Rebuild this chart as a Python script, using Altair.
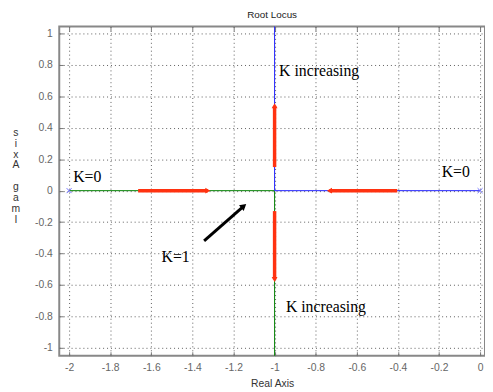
import altair as alt
import pandas as pd

# ---- data ----
ticks_x = [-2, -1.8, -1.6, -1.4, -1.2, -1, -0.8, -0.6, -0.4, -0.2, 0]
ticks_y = [-1, -0.8, -0.6, -0.4, -0.2, 0, 0.2, 0.4, 0.6, 0.8, 1]

# locus branches (x1, y1, x2, y2, colour)
seg_x1 = [-2.0, -1.0, -1.0, -1.0]
seg_y1 = [0.0, 0.0, 0.0, 0.0]
seg_x2 = [-1.0, -1.0, 0.0, -1.0]
seg_y2 = [0.0, -1.1, 0.0, 1.1]
seg_col = ["green", "green", "blue", "blue"]

# open-loop poles
pole_x = [-2.0, 0.0]
pole_y = [0.0, 0.0]

# red direction arrows: tail -> tip
arr_x1 = [-1.664, -0.403, -1.0, -1.0]
arr_y1 = [0.0, 0.0, 0.15, -0.13]
arr_x2 = [-1.325, -0.733, -1.0, -1.0]
arr_y2 = [0.0, 0.0, 0.54, -0.565]
arr_shape = ["triangle-right", "triangle-left", "triangle-up", "triangle-down"]

# black pointer arrow
blk_x1 = [-1.343]
blk_y1 = [-0.32]
blk_x2 = [-1.15]
blk_y2 = [-0.098]

# labels
lab_text = ["K increasing", "K increasing", "K=0", "K=0", "K=1"]
lab_x = [-0.978, -0.945, -1.98, -0.187, -1.55]
lab_y = [0.76, -0.74, 0.085, 0.12, -0.42]

# stacked y-axis title letters
y_letters = ["s", "i", "x", "A", "", "g", "a", "m", "I"]

XD = [-2.048, 0.024]
YD = [-1.05, 1.044]

seg = pd.DataFrame(dict(x=seg_x1, y=seg_y1, x2=seg_x2, y2=seg_y2, c=seg_col))
poles = pd.DataFrame(dict(x=pole_x, y=pole_y))
arr = pd.DataFrame(dict(x=arr_x1, y=arr_y1, x2=arr_x2, y2=arr_y2, s=arr_shape))
blk = pd.DataFrame(dict(x=blk_x1, y=blk_y1, x2=blk_x2, y2=blk_y2))
labs = pd.DataFrame(dict(t=lab_text, x=lab_x, y=lab_y))
ytd = pd.DataFrame(dict(t=y_letters, i=list(range(len(y_letters)))))

sx = alt.Scale(domain=XD, nice=False, zero=False)
sy = alt.Scale(domain=YD, nice=False, zero=False)

FONT = "Liberation Sans"
LABC = "#666666"

main_x = alt.Axis(values=ticks_x, tickSize=0, labelPadding=7, grid=True,
                  gridDash=[1, 3], gridColor="#333", gridOpacity=0.8,
                  domain=False, title="Real Axis", titlePadding=6,
                  labelExpr="datum.value + ''")
main_y = alt.Axis(values=ticks_y, tickSize=0, labelPadding=7, grid=True,
                  gridDash=[1, 3], gridColor="#333", gridOpacity=0.8,
                  domain=False, title=None,
                  labelExpr="datum.value + ''")

base = alt.Chart(seg).mark_rule(strokeWidth=1, clip=True).encode(
    x=alt.X("x:Q", scale=sx, axis=main_x),
    y=alt.Y("y:Q", scale=sy, axis=main_y),
    x2="x2:Q", y2="y2:Q",
    color=alt.Color("c:N", scale=alt.Scale(domain=["green", "blue"], range=["#008000", "#2020ff"]), legend=None),
)

# inner tick layers
tick_b = alt.Chart(poles).mark_point(opacity=0).encode(
    x=alt.X("x:Q", scale=sx, axis=alt.Axis(orient="bottom", offset=-4, tickSize=4, values=ticks_x,
                                           labels=False, domain=False, grid=False, title=None, tickColor="#777")),
    y=alt.Y("y:Q", scale=sy, axis=alt.Axis(orient="left", offset=-4, tickSize=4, values=ticks_y,
                                           labels=False, domain=False, grid=False, title=None, tickColor="#777")),
)
tick_t = alt.Chart(poles).mark_point(opacity=0).encode(
    x=alt.X("x:Q", scale=sx, axis=alt.Axis(orient="top", offset=-4, tickSize=4, values=ticks_x,
                                           labels=False, domain=False, grid=False, title=None, tickColor="#777")),
    y=alt.Y("y:Q", scale=sy, axis=None),
)

pole_m = alt.Chart(poles).mark_point(shape="M-1,-1L1,1M-1,1L1,-1", size=25, filled=False,
                                     color="#6a6aff", strokeWidth=1, opacity=1).encode(
    x=alt.X("x:Q", scale=sx, axis=None), y=alt.Y("y:Q", scale=sy, axis=None))

red = "#ff3210"
shaft = alt.Chart(arr).mark_rule(strokeWidth=3.5, color=red, strokeCap="butt").encode(
    x=alt.X("x:Q", scale=sx, axis=None), y=alt.Y("y:Q", scale=sy, axis=None), x2="x2:Q", y2="y2:Q")
heads = alt.Chart(arr).mark_point(filled=True, size=35, color=red, opacity=1).encode(
    x=alt.X("x2:Q", scale=sx, axis=None), y=alt.Y("y2:Q", scale=sy, axis=None),
    shape=alt.Shape("s:N", scale=None))

bshaft = alt.Chart(blk).mark_rule(strokeWidth=3, color="black", strokeCap="butt").encode(
    x=alt.X("x:Q", scale=sx, axis=None), y=alt.Y("y:Q", scale=sy, axis=None), x2="x2:Q", y2="y2:Q")
bhead = alt.Chart(blk).mark_point(filled=True, size=55, color="black", shape="triangle-up",
                                  angle=50, opacity=1).encode(
    x=alt.X("x2:Q", scale=sx, axis=None), y=alt.Y("y2:Q", scale=sy, axis=None))

texts = alt.Chart(labs).mark_text(align="left", baseline="middle", font="Liberation Serif",
                                  fontSize=16, color="black").encode(
    x=alt.X("x:Q", scale=sx, axis=None), y=alt.Y("y:Q", scale=sy, axis=None), text="t:N")

ytitle = alt.Chart(ytd).transform_calculate(
    yy="0.367 - datum.i * 0.069"
).mark_text(align="center", baseline="middle", font=FONT, fontSize=10.5, color="#333").encode(
    x=alt.value(-44), y=alt.Y("yy:Q", scale=sy, axis=None), text="t:N")

chart = alt.layer(base, tick_b, tick_t, pole_m, shaft, heads, bshaft, bhead, texts, ytitle).resolve_axis(
    x="independent", y="independent"
).properties(
    width=432, height=334,
    autosize=alt.AutoSizeParams(type="none"),
    padding={"left": 52, "top": 16, "right": 0, "bottom": 34},
    title=alt.Title("Root Locus", fontSize=10, font=FONT, fontWeight="normal", color="#222",
                    frame="group", offset=6),
).configure_view(stroke="#888", strokeWidth=2).configure_axis(
    labelFont=FONT, labelFontSize=10.5, labelColor=LABC,
    titleFont=FONT, titleFontSize=10.5, titleColor="#333", titleFontWeight="normal",
)

chart.save("out.html", embed_options={"renderer": "svg", "actions": False})
